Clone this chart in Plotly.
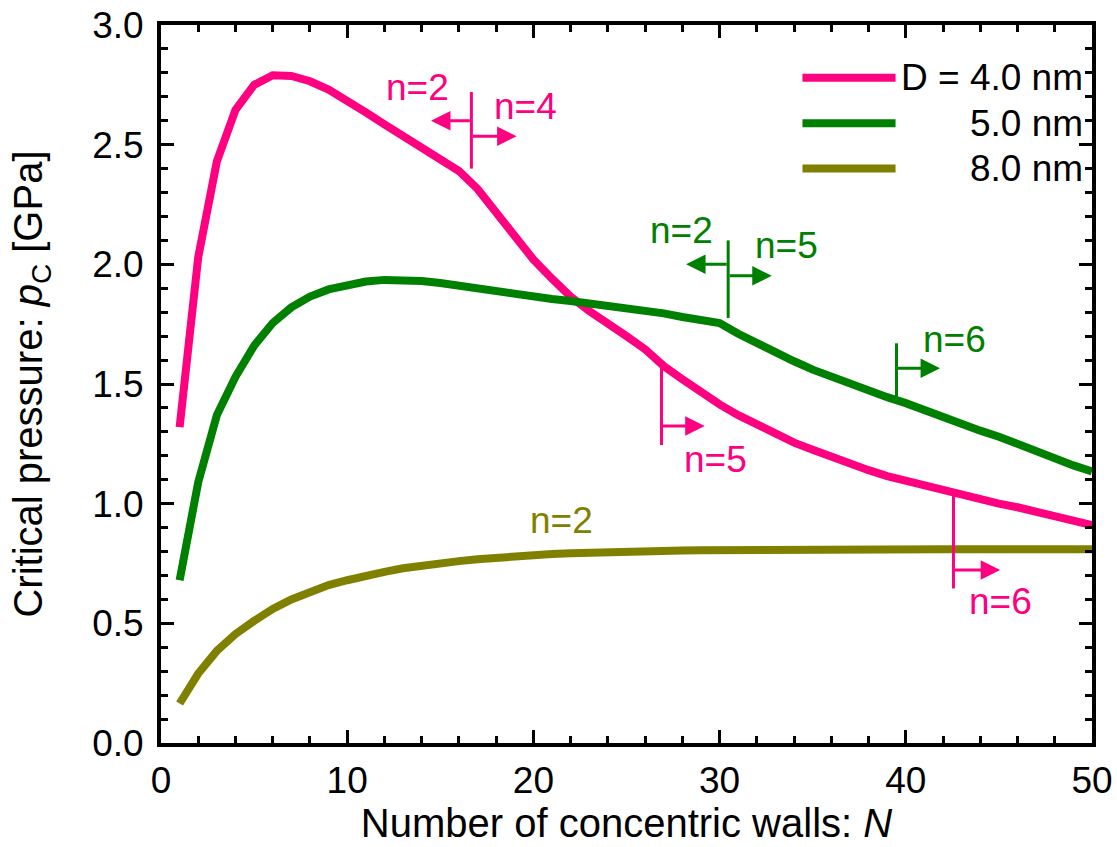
import plotly.graph_objects as go

# ---------------- data ----------------
N = list(range(1, 51))

p_4nm = [1.32, 2.03, 2.43, 2.645, 2.75, 2.79, 2.787, 2.765, 2.73, 2.685,
         2.635, 2.585, 2.535, 2.485, 2.435, 2.39, 2.315, 2.215, 2.11, 2.02,
         1.94, 1.865, 1.805, 1.755, 1.70, 1.645, 1.575, 1.52, 1.465, 1.415,
         1.37, 1.33, 1.29, 1.255, 1.225, 1.195, 1.165, 1.14, 1.115, 1.095,
         1.075, 1.06, 1.04, 1.02, 1.0, 0.985, 0.965, 0.945, 0.93, 0.91]

p_5nm = [0.68, 1.09, 1.37, 1.53, 1.66, 1.755, 1.82, 1.865, 1.895, 1.915,
         1.928, 1.935, 1.935, 1.93, 1.922, 1.91, 1.90, 1.89, 1.877, 1.866,
         1.855, 1.847, 1.838, 1.827, 1.815, 1.805, 1.795, 1.78, 1.768, 1.755,
         1.71, 1.67, 1.63, 1.595, 1.56, 1.53, 1.50, 1.47, 1.445, 1.42,
         1.39, 1.36, 1.335, 1.305, 1.28, 1.25, 1.215, 1.19, 1.16, 1.135]

p_8nm = [0.165, 0.29, 0.385, 0.455, 0.51, 0.56, 0.60, 0.632, 0.66, 0.68,
         0.70, 0.715, 0.73, 0.742, 0.752, 0.76, 0.768, 0.775, 0.78, 0.785,
         0.79, 0.793, 0.796, 0.798, 0.80, 0.801, 0.802, 0.804, 0.805, 0.806,
         0.807, 0.808, 0.808, 0.809, 0.809, 0.81, 0.81, 0.81, 0.81, 0.81,
         0.81, 0.81, 0.81, 0.81, 0.81, 0.81, 0.81, 0.81, 0.81, 0.81]

series_names = ["D = 4.0 nm", "5.0 nm", "8.0 nm"]
series_values = [p_4nm, p_5nm, p_8nm]
series_colors = ["#FF0080", "#008000", "#808000"]

x_title = "Number of concentric walls: <i>N</i>"
y_title = "Critical pressure: <i>p</i><sub>C</sub> [GPa]"

FONT = "Liberation Sans, Arial, sans-serif"
TICK_FS = 37
TITLE_FS = 40
ANN_FS = 37

fig = go.Figure()
for name, vals, col in zip(series_names, series_values, series_colors):
    fig.add_trace(go.Scatter(x=N, y=vals, mode="lines", name=name,
                             line=dict(color=col, width=8),
                             showlegend=False))

# ---------------- mode-change markers ----------------
PINK, GREEN, OLIVE = series_colors

# (color, x of vertical bar, y0, y1, list of arrows (y, head_x))
markers = [
    (PINK, 16.67, 2.40, 2.72, [(2.60, 14.5), (2.535, 19.1)]),
    (GREEN, 30.46, 1.776, 2.10, [(2.00, 28.2), (1.952, 32.8)]),
    (GREEN, 39.5, 1.447, 1.67, [(1.566, 41.84)]),
    (PINK, 26.88, 1.245, 1.573, [(1.325, 29.2)]),
    (PINK, 42.56, 0.646, 1.057, [(0.723, 45.07)]),
]
labels = [
    (PINK, "n=2", 13.8, 2.74), (PINK, "n=4", 19.55, 2.66),
    (GREEN, "n=2", 27.97, 2.14), (GREEN, "n=5", 33.6, 2.08),
    (GREEN, "n=6", 42.6, 1.684),
    (PINK, "n=5", 29.8, 1.183), (PINK, "n=6", 45.07, 0.593),
    (OLIVE, "n=2", 21.5, 0.928),
]

for col, xv, y0, y1, arrows in markers:
    fig.add_shape(type="line", xref="x", yref="y", x0=xv, x1=xv, y0=y0, y1=y1,
                  line=dict(color=col, width=3))
    for ya, xh in arrows:
        fig.add_annotation(x=xh, y=ya, ax=xv, ay=ya, xref="x", yref="y",
                           axref="x", ayref="y", text="", showarrow=True,
                           arrowhead=2, arrowsize=1.3, arrowwidth=3,
                           arrowcolor=col)

for col, txt, xv, yv in labels:
    fig.add_annotation(x=xv, y=yv, xref="x", yref="y", text=txt,
                       showarrow=False, font=dict(family=FONT, size=ANN_FS, color=col),
                       xanchor="center", yanchor="middle")

# ---------------- legend (drawn as in the reference) ----------------
leg_y = [0.9266, 0.863, 0.800]
for name, col, ly in zip(series_names, series_colors, leg_y):
    fig.add_shape(type="line", xref="paper", yref="paper", x0=0.689, x1=0.789,
                  y0=ly, y1=ly, line=dict(color=col, width=8))
    fig.add_annotation(x=0.9925, y=ly, xref="paper", yref="paper", text=name,
                       showarrow=False, xanchor="right", yanchor="middle",
                       font=dict(family=FONT, size=ANN_FS, color="black"))

axis_common = dict(
    showline=True, linecolor="black", linewidth=4, mirror="ticks",
    ticks="inside", ticklen=13, tickwidth=3, tickcolor="black",
    showgrid=False, zeroline=False, automargin=True,
    tickfont=dict(family=FONT, size=TICK_FS, color="black"),
)

fig.update_xaxes(range=[0, 50], dtick=10, tick0=0,
                 minor=dict(dtick=2, ticks="inside", ticklen=7, tickwidth=3,
                            tickcolor="black", showgrid=False),
                 title=dict(text=x_title, font=dict(family=FONT, size=TITLE_FS, color="black"),
                            standoff=0),
                 ticklabelstandoff=2,
                 **axis_common)
fig.update_yaxes(range=[0, 3], dtick=0.5, tick0=0, tickformat=".1f",
                 minor=dict(dtick=0.1, ticks="inside", ticklen=7, tickwidth=3,
                            tickcolor="black", showgrid=False),
                 title=dict(text=y_title, font=dict(family=FONT, size=TITLE_FS, color="black"),
                            standoff=38),
                 ticklabelstandoff=6,
                 **axis_common)

fig.update_layout(
    width=1117, height=847,
    margin=dict(l=161, r=25, t=25, b=104, autoexpand=False),
    paper_bgcolor="white", plot_bgcolor="white",
    font=dict(family=FONT, color="black"),
)

fig.write_html("out.html")
